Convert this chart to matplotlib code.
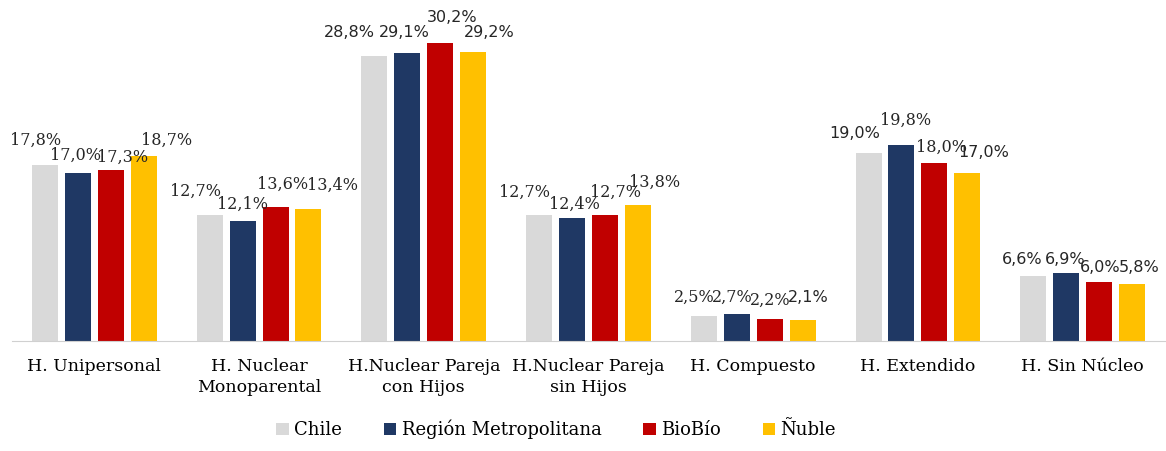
import numpy as np
import matplotlib.pyplot as plt

categories = ["H. Unipersonal", "H. Nuclear\nMonoparental", "H.Nuclear Pareja\ncon Hijos",
              "H.Nuclear Pareja\nsin Hijos", "H. Compuesto", "H. Extendido", "H. Sin Núcleo"]
chile = [17.8, 12.7, 28.8, 12.7, 2.5, 19.0, 6.6]
metropolitana = [17.0, 12.1, 29.1, 12.4, 2.7, 19.8, 6.9]
biobio = [17.3, 13.6, 30.2, 12.7, 2.2, 18.0, 6.0]
nuble = [18.7, 13.4, 29.2, 13.8, 2.1, 17.0, 5.8]

series = [("Chile", chile, "#D9D9D9"),
          ("Región Metropolitana", metropolitana, "#1F3864"),
          ("BioBío", biobio, "#C00000"),
          ("Ñuble", nuble, "#FFC000")]

# label nudges in pixels (dx, dy above bar top) per series, per category
nudges = [
    [(-9, 25), (-14, 24), (-25, 24), (-15, 23), (-9, 19), (-14, 20), (-11, 16)],
    [(-2, 18), (0, 17), (-3, 21), (2, 14), (-4, 17), (4, 25), (-1, 13)],
    [(12, 13), (7, 22), (12, 25), (11, 23), (1, 19), (7, 16), (1, 14)],
    [(23, 16), (24, 23), (16, 20), (17, 22), (6, 23), (16, 20), (7, 16)],
]
# label typeface (the original mixes two)
faces = [
    ["r", "r", "s", "r", "r", "s", "s"],
    ["r", "r", "s", "r", "r", "r", "s"],
    ["r", "r", "s", "r", "r", "r", "s"],
    ["r", "r", "s", "r", "s", "s", "s"],
]
fam = {"r": "DejaVu Serif", "s": "DejaVu Sans"}

fig = plt.figure(figsize=(11.66, 4.51), dpi=100)
ax = fig.add_axes([12 / 1166, 110 / 451, 1153 / 1166, 341 / 451])

x = np.arange(len(categories))
width = 0.158
step = 0.2
for i, (name, vals, color) in enumerate(series):
    pos = x + (i - 1.5) * step
    bars = ax.bar(pos, vals, width, color=color, label=name)
    for j, (b, v) in enumerate(zip(bars, vals)):
        dx, dy = nudges[i][j]
        ax.annotate(f"{v:.1f}%".replace(".", ","), (b.get_x() + b.get_width() / 2, v),
                    xytext=(dx, dy), textcoords="offset pixels", ha="center", va="center",
                    fontsize=11.5, family=fam[faces[i][j]], color="#262626")

ax.set_xlim(-0.5, len(categories) - 0.5)
ax.set_ylim(0, 34.5)
ax.set_xticks(x)
ax.set_xticklabels(categories, family="DejaVu Serif", fontsize=12.5, linespacing=1.3)
ax.tick_params(axis="x", length=0, pad=12)
ax.set_yticks([])
for s in ["top", "right", "left"]:
    ax.spines[s].set_visible(False)
ax.spines["bottom"].set_color("#D0D0D0")

fig.legend(loc="lower center", bbox_to_anchor=(0.477, -0.01), ncol=4, frameon=False,
           prop={"family": "DejaVu Serif", "size": 13}, handlelength=0.7, handleheight=0.7,
           handletextpad=0.3, columnspacing=2.3)

fig.savefig("out.png", dpi=100)
